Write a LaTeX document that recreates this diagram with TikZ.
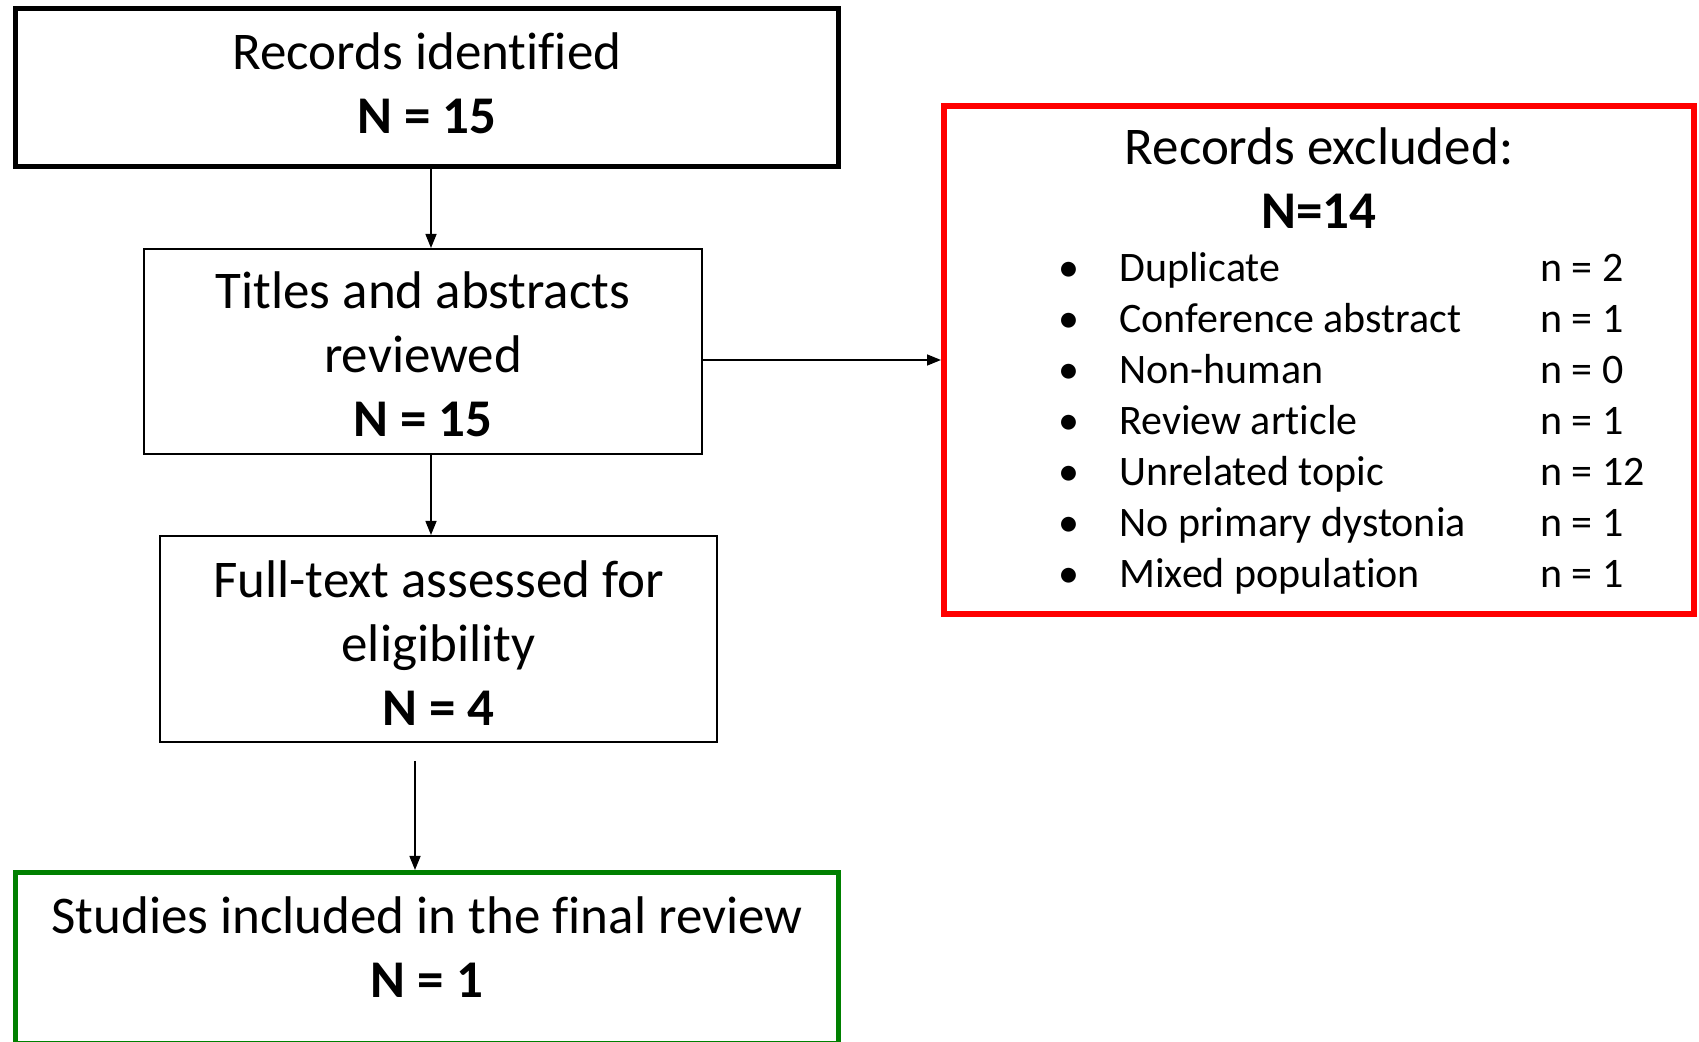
\documentclass[tikz,border=0pt]{standalone}
\usepackage{fontspec}
\setmainfont[Ligatures=NoCommon]{Carlito}
\usetikzlibrary{arrows.meta}

\begin{document}
\begin{tikzpicture}[x=0.5pt, y=-0.5pt,
        stagebox/.style={draw, line width=1pt, inner sep=0pt},
        stagetext/.style={align=center, inner sep=0pt, font=\fontsize{26.5}{32}\selectfont},
        arr/.style={-{Triangle[length=7pt,width=5.5pt]}, line width=0.75pt},
        listtext/.style={inner sep=0pt, anchor=base west, font=\fontsize{21}{25}\selectfont}]
        \useasboundingbox (0,0) rectangle (1699,1042);

        % Define the stages
        \node[stagebox, line width=2.5pt, minimum width=411.5pt, minimum height=78.75pt] (ident) at (427, 87.75) {};
        \node[stagetext] (identtext) at ([yshift=2.2pt]ident.center) {Records identified\\ \textbf{N = 15}};

        \node[stagebox, minimum width=279pt, minimum height=102.5pt] (titles) at (423, 351.5) {};
        \node[stagetext] (titlestext) at ([yshift=-1.6pt]titles.center) {Titles and abstracts\\ reviewed\\ \textbf{N = 15}};

        \node[stagebox, minimum width=278.5pt, minimum height=103pt] (fulltext) at (438.5, 639) {};
        \node[stagetext] (fulltexttext) at ([yshift=-2.2pt]fulltext.center) {Full-text assessed for\\ eligibility\\ \textbf{N = 4}};

        \node[stagebox, draw=green!50!black, line width=2.5pt, minimum width=411.5pt, minimum height=85.25pt] (final) at (427, 957.75) {};
        \node[stagetext] (finaltext) at ([yshift=5.5pt]final.center) {Studies included in the final review\\ \textbf{N = 1}};

        % Define the exclusion box
        \node[stagebox, draw=red, line width=3pt, minimum width=375pt, minimum height=254pt] (excluded) at (1319, 360) {};
        \node[stagetext] (exctitle) at (1319, 178) {Records excluded:\\ \textbf{N=14}};
        \foreach \reason/\num [count=\i from 0] in {Duplicate/2, Conference abstract/1, Non-human/0,
                Review article/1, Unrelated topic/12, No primary dystonia/1, Mixed population/1} {
            \node[listtext, anchor=base] (bul\i) at (1069, {282+51*\i}) {\textbullet};
            \node[listtext] (why\i) at (1119, {282+51*\i}) {\reason};
            \node[listtext] (cnt\i) at (1540, {282+51*\i}) {n = \num};
        }

        % Define the arrows
        \coordinate (gap) at (415, 761);
        \draw[arr] ([xshift=2pt]ident.south) -- ([xshift=2pt]ident.south |- titles.north);
        \draw[arr] ([xshift=2pt]ident.south |- titles.south) -- ([xshift=2pt]ident.south |- fulltext.north);
        \draw[arr] (gap) -- (gap |- final.north);
        \draw[arr] (titles.east |- excluded.west) -- (excluded.west);

    \end{tikzpicture}
\end{document}
